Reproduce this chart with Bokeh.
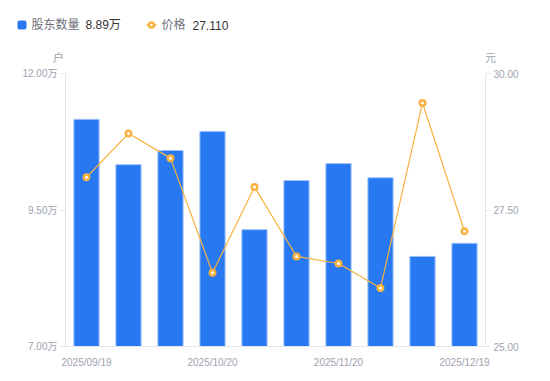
from bokeh.plotting import figure
from bokeh.layouts import column
from bokeh.models import Range1d, LinearAxis, FixedTicker, CustomJSTickFormatter
from bokeh.core.properties import value
from bokeh.embed import file_html
from bokeh.resources import INLINE

dates = ["2025/09/19", "2025/09/30", "2025/10/10", "2025/10/20", "2025/10/31",
         "2025/11/10", "2025/11/20", "2025/11/28", "2025/12/10", "2025/12/19"]
shown_label_idx = [0, 3, 6, 9]
holders_wan = [11.16, 10.33, 10.59, 10.94, 9.14, 10.04, 10.35, 10.09, 8.65, 8.89]
prices = [28.10, 28.90, 28.45, 26.35, 27.92, 26.65, 26.52, 26.07, 29.46, 27.110]
left_ticks = [7.0, 9.5, 12.0]
right_ticks = [25.0, 27.5, 30.0]
series_names = ["股东数量", "价格"]
axis_units = ["户", "元"]

FONT = "Liberation Sans, Noto Sans CJK SC"
AXIS_GRAY = "#e3e5ea"
LABEL_GRAY = "#9ea2af"
BLUE = "#2878f2"
ORANGE = "#f8b241"

W = 542
HEADER_H = 65

# ---------- header (legend + axis unit titles), pixel coordinates ----------
h = figure(width=W, height=HEADER_H, output_backend="svg", toolbar_location=None,
           x_range=Range1d(0, W), y_range=Range1d(HEADER_H, 0),
           min_border=0, min_border_left=0, min_border_right=0,
           min_border_top=0, min_border_bottom=0)
h.axis.visible = False
h.grid.visible = False
h.outline_line_color = None

ly = 24.5
h.quad(left=[17], right=[26], top=[20], bottom=[29], fill_color=BLUE,
       line_color=None, border_radius=2)
h.line(x=[146, 156], y=[ly, ly], line_color=ORANGE, line_width=1.5)
h.scatter(x=[151], y=[ly], size=5, marker="circle", fill_color="white",
          line_color=ORANGE, line_width=2.5)
h.text(x=[31, 161], y=[ly, ly], text=series_names, text_font=value(FONT),
       text_font_size="12px", text_color="#6e7079", text_baseline="middle")
h.text(x=[85, 192], y=[ly, ly],
       text=[f"{holders_wan[-1]:.2f}万", f"{prices[-1]:.3f}"],
       text_font=value(FONT), text_font_size="12px", text_color="#333333",
       text_baseline="middle")
h.text(x=[58, 490], y=[57, 57], text=axis_units, text_font=value(FONT),
       text_font_size="11px", text_color=LABEL_GRAY, text_align="center",
       text_baseline="middle")

# ---------- main chart ----------
x = list(range(len(dates)))

p = figure(width=W, height=308, output_backend="svg", toolbar_location=None,
           x_range=Range1d(-0.5, len(dates) - 0.5),
           y_range=Range1d(left_ticks[0], left_ticks[-1]),
           min_border_left=65, min_border_right=57, min_border_top=8,
           min_border_bottom=27)
p.extra_y_ranges = {"price": Range1d(right_ticks[0], right_ticks[-1])}
p.outline_line_color = None
p.grid.visible = False

for fig in (h, p):
    if "frame_align" in fig.properties():
        fig.frame_align = False

p.vbar(x=x, top=holders_wan, bottom=left_ticks[0], width=0.6,
       fill_color=BLUE, line_color="#9cc1fa", line_width=1)
p.line(x=x, y=prices, y_range_name="price", line_color=ORANGE, line_width=1.2)
p.scatter(x=x, y=prices, y_range_name="price", size=5.5, marker="circle",
          fill_color="white", line_color=ORANGE, line_width=2.5)

def style_axis(ax):
    ax.axis_line_color = AXIS_GRAY
    ax.major_tick_line_color = AXIS_GRAY
    ax.major_tick_in = 0
    ax.major_tick_out = 5
    ax.minor_tick_line_color = None
    ax.major_label_text_color = LABEL_GRAY
    ax.major_label_text_font = FONT
    ax.major_label_text_font_size = "10px"

xa = p.xaxis[0]
style_axis(xa)
xa.major_tick_line_color = None
xa.ticker = FixedTicker(ticks=shown_label_idx)
xa.formatter = CustomJSTickFormatter(args=dict(labels=dates), code="return labels[tick];")
xa.major_label_standoff = 5

ya = p.yaxis[0]
style_axis(ya)
ya.ticker = FixedTicker(ticks=left_ticks)
ya.formatter = CustomJSTickFormatter(code="return tick.toFixed(2) + '万';")
ya.major_label_standoff = 3

ra = LinearAxis(y_range_name="price")
style_axis(ra)
ra.ticker = FixedTicker(ticks=right_ticks)
ra.formatter = CustomJSTickFormatter(code="return tick.toFixed(2);")
ra.major_label_standoff = 3
p.add_layout(ra, "right")

layout = column(h, p, spacing=0)
open("out.html", "w").write(file_html(layout, INLINE))
